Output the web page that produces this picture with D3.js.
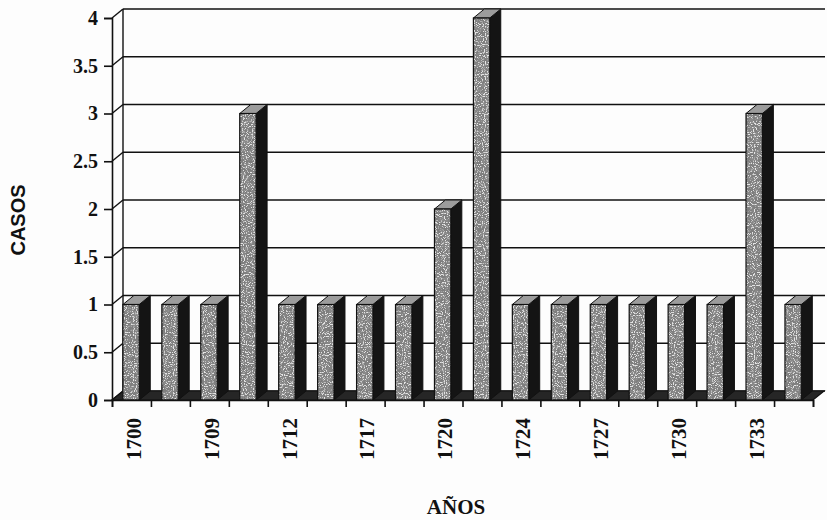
<!DOCTYPE html>
<html>
<head>
<meta charset="utf-8">
<script src="https://cdn.jsdelivr.net/npm/d3@7/dist/d3.min.js"></script>
<style>
  html, body { margin: 0; padding: 0; background: #fdfdfd; }
  svg { display: block; }
</style>
</head>
<body>
<script>
// Cases per year (one bar per year recorded)
const casos = [1, 1, 1, 3, 1, 1, 1, 1, 2, 4, 1, 1, 1, 1, 1, 1, 3, 1];
// Labels printed under every other bar ("" = unlabelled)
const tickLabels = ["1700", "", "1709", "", "1712", "", "1717", "", "1720", "",
                    "1724", "", "1727", "", "1730", "", "1733", ""];
const yTicks = [0, 0.5, 1, 1.5, 2, 2.5, 3, 3.5, 4];

const W = 827, H = 520;
const plotLeft = 112, plotRight = 813, plotBottom = 400, plotTop = 18;
const dx = 11, dy = -9;           // depth offset of the 3D box

const svg = d3.select("body").append("svg").attr("width", W).attr("height", H);

// mottled stone texture for bar faces: dark blotches plus light speckles
const defs = svg.append("defs");
const f = defs.append("filter").attr("id", "granite")
  .attr("x", 0).attr("y", 0).attr("width", 1).attr("height", 1);
f.append("feTurbulence").attr("type", "fractalNoise").attr("baseFrequency", 0.22)
  .attr("numOctaves", 3).attr("seed", 7).attr("result", "n1");
f.append("feColorMatrix").attr("in", "n1").attr("type", "matrix")
  .attr("values", "0 0 0 0 0.25  0 0 0 0 0.25  0 0 0 0 0.25  7 0 0 0 -3.2").attr("result", "dark");
f.append("feTurbulence").attr("type", "fractalNoise").attr("baseFrequency", 0.9)
  .attr("numOctaves", 1).attr("seed", 3).attr("result", "n2");
f.append("feColorMatrix").attr("in", "n2").attr("type", "matrix")
  .attr("values", "0 0 0 0 0.78  0 0 0 0 0.78  0 0 0 0 0.78  0 8 0 0 -4.3").attr("result", "light");
f.append("feComposite").attr("in", "dark").attr("in2", "SourceGraphic").attr("operator", "in").attr("result", "d2");
f.append("feComposite").attr("in", "light").attr("in2", "SourceGraphic").attr("operator", "in").attr("result", "l2");
const fm = f.append("feMerge");
fm.append("feMergeNode").attr("in", "SourceGraphic");
fm.append("feMergeNode").attr("in", "d2");
fm.append("feMergeNode").attr("in", "l2");

const x = d3.scaleBand().domain(d3.range(casos.length)).range([plotLeft, plotRight]).paddingInner(0).paddingOuter(0);
const xEdge = d3.scaleLinear().domain([0, casos.length]).range([plotLeft, plotRight]);
const y = d3.scaleLinear().domain([0, 4]).range([plotBottom, plotTop]);
const bw = x.bandwidth();

const ink = "#111";

// back wall gridlines
svg.append("g").selectAll("line").data(yTicks).join("line")
  .attr("x1", plotLeft + dx).attr("x2", plotRight + dx + 1)
  .attr("y1", d => y(d) + dy).attr("y2", d => y(d) + dy)
  .attr("stroke", ink).attr("stroke-width", 1.6);

// left side wall
const wall = svg.append("g").attr("stroke", ink).attr("stroke-width", 1.4).attr("fill", "none");
wall.append("line").attr("x1", plotLeft + dx).attr("x2", plotLeft + dx).attr("y1", y(0) + dy).attr("y2", y(4) + dy);
wall.selectAll("line.diag").data(yTicks).join("line").attr("class", "diag")
  .attr("x1", plotLeft).attr("y1", d => y(d)).attr("x2", plotLeft + dx).attr("y2", d => y(d) + dy);

// floor
svg.append("path")
  .attr("d", `M${plotLeft},${y(0)} L${plotRight},${y(0)} L${plotRight + dx},${y(0) + dy} L${plotLeft + dx},${y(0) + dy} Z`)
  .attr("fill", "#262626").attr("stroke", ink).attr("stroke-width", 1.2);

// bars: dark side, lighter top, textured front face
const bars = svg.append("g").selectAll("g").data(casos).join("g");
const fx = i => x(i) + bw * 0.28;
const fw = bw * 0.42;

bars.append("path")
  .attr("d", (d, i) => {
    const x1 = fx(i) + fw;
    return `M${x1},${y(0)} L${x1 + dx},${y(0) + dy} L${x1 + dx},${y(d) + dy} L${x1},${y(d)} Z`;
  })
  .attr("fill", "#141414").attr("stroke", ink).attr("stroke-width", 1);

bars.append("path")
  .attr("d", (d, i) => {
    const x0 = fx(i), x1 = fx(i) + fw;
    return `M${x0},${y(d)} L${x1},${y(d)} L${x1 + dx},${y(d) + dy} L${x0 + dx},${y(d) + dy} Z`;
  })
  .attr("fill", "#9c9c9c").attr("stroke", ink).attr("stroke-width", 1);

bars.append("rect")
  .attr("x", (d, i) => fx(i)).attr("y", d => y(d))
  .attr("width", fw).attr("height", d => y(0) - y(d))
  .attr("fill", "#7e7e7e").attr("filter", "url(#granite)");
bars.append("rect")
  .attr("x", (d, i) => fx(i)).attr("y", d => y(d))
  .attr("width", fw).attr("height", d => y(0) - y(d))
  .attr("fill", "none").attr("stroke", ink).attr("stroke-width", 1.2);

// y axis on the front edge
const yAxis = svg.append("g").attr("transform", `translate(${plotLeft},0)`)
  .call(d3.axisLeft(y).tickValues(yTicks).tickSize(8).tickPadding(6).tickFormat(d => String(d)));
yAxis.select(".domain").attr("stroke", ink).attr("stroke-width", 1.6);
yAxis.selectAll(".tick line").attr("stroke", ink).attr("stroke-width", 1.6);
yAxis.selectAll(".tick text")
  .attr("font-family", "'Liberation Serif', serif").attr("font-weight", "bold")
  .attr("font-size", 20).attr("fill", ink);

// x axis: ticks on category boundaries
const xAxis = svg.append("g").attr("transform", `translate(0,${plotBottom})`)
  .call(d3.axisBottom(xEdge).tickValues(d3.range(casos.length + 1)).tickSize(7).tickFormat(""));
xAxis.select(".domain").attr("stroke", ink).attr("stroke-width", 1.6);
xAxis.selectAll(".tick line").attr("stroke", ink).attr("stroke-width", 1.6);

svg.append("g").selectAll("text").data(tickLabels).join("text")
  .attr("transform", (d, i) => `translate(${x(i) + bw / 2 + 2},418) rotate(-90)`)
  .attr("text-anchor", "end").attr("dy", "0.35em")
  .attr("font-family", "'Liberation Serif', serif").attr("font-weight", "bold")
  .attr("font-size", 21).attr("fill", ink)
  .text(d => d);

// axis titles
svg.append("text")
  .attr("transform", "translate(18,220) rotate(-90)")
  .attr("text-anchor", "middle").attr("dy", "0.35em")
  .attr("font-family", "'Liberation Sans', Arial, sans-serif").attr("font-weight", "bold")
  .attr("font-size", 20).attr("fill", ink)
  .text("CASOS");

svg.append("text")
  .attr("x", 456).attr("y", 514).attr("text-anchor", "middle")
  .attr("font-family", "'Liberation Serif', serif").attr("font-weight", "bold")
  .attr("font-size", 21).attr("fill", ink)
  .text("AÑOS");
</script>
</body>
</html>
